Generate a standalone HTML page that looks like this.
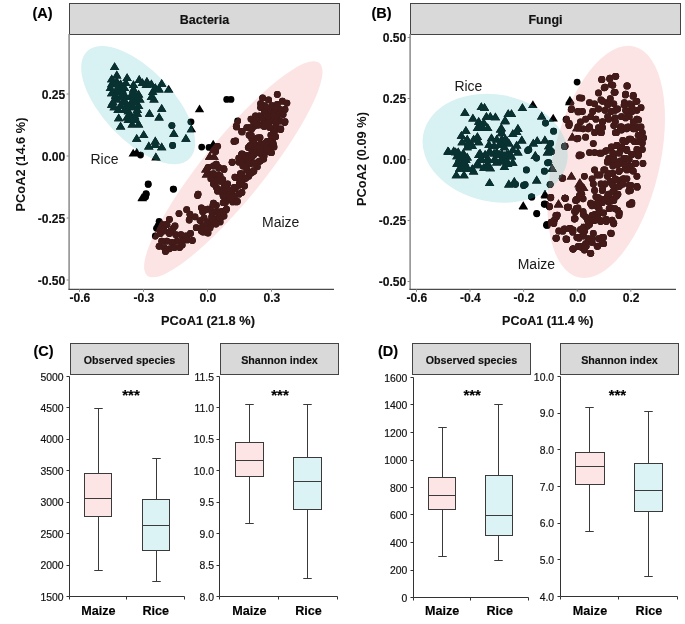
<!DOCTYPE html><html><head><meta charset="utf-8"><style>html,body{margin:0;padding:0;background:#fff;overflow:hidden;}svg{display:block;will-change:transform;font-family:'Liberation Sans',sans-serif}</style></head><body>
<svg width="685" height="624" viewBox="0 0 685 624">
<rect width="685" height="624" fill="#fff"/>
<text x="32.5" y="17.5" font-size="14.5" font-weight="bold" text-anchor="start" fill="#000" stroke="#000" stroke-width="0.15" >(A)</text>
<text x="371.5" y="17.5" font-size="14.5" font-weight="bold" text-anchor="start" fill="#000" stroke="#000" stroke-width="0.15" >(B)</text>
<text x="33.5" y="356" font-size="14.5" font-weight="bold" text-anchor="start" fill="#000" stroke="#000" stroke-width="0.15" >(C)</text>
<text x="378" y="356" font-size="14.5" font-weight="bold" text-anchor="start" fill="#000" stroke="#000" stroke-width="0.15" >(D)</text>
<defs>
<clipPath id="paA"><rect x="70" y="34" width="270" height="255"/></clipPath>
<ellipse id="erA" cx="138.2" cy="105.15" rx="74.2" ry="35.07" transform="rotate(46.6 138.2 105.15)"/>
<ellipse id="emA" cx="233.3" cy="169.25" rx="136.8" ry="30.5" transform="rotate(-51.05 233.3 169.25)"/>
<clipPath id="crA"><use href="#erA"/></clipPath>
<clipPath id="cmA"><use href="#emA"/></clipPath>
<g id="ptA"><circle cx="171.9" cy="125.6" r="3.4"/><circle cx="226.7" cy="99.4" r="3.4"/><circle cx="231.0" cy="99.4" r="3.4"/><circle cx="191.0" cy="121.8" r="3.4"/><circle cx="172.6" cy="145.5" r="3.4"/><circle cx="140.5" cy="155.1" r="3.4"/><circle cx="148.2" cy="184.0" r="3.4"/><circle cx="146.3" cy="194.2" r="3.4"/><circle cx="173.2" cy="189.1" r="3.4"/><circle cx="201.7" cy="147.1" r="3.4"/><circle cx="209.0" cy="147.4" r="3.4"/><circle cx="208.3" cy="167.3" r="3.4"/><circle cx="213.5" cy="166.0" r="3.4"/><circle cx="218.6" cy="167.3" r="3.4"/><circle cx="223.7" cy="168.6" r="3.4"/><circle cx="208.3" cy="173.7" r="3.4"/><circle cx="213.5" cy="173.7" r="3.4"/><circle cx="218.6" cy="175.0" r="3.4"/><circle cx="210.9" cy="178.8" r="3.4"/><circle cx="216.0" cy="180.1" r="3.4"/><circle cx="221.2" cy="181.4" r="3.4"/><circle cx="213.5" cy="184.0" r="3.4"/><circle cx="227.6" cy="184.0" r="3.4"/><circle cx="223.7" cy="187.8" r="3.4"/><circle cx="226.3" cy="191.7" r="3.4"/><circle cx="217.3" cy="189.1" r="3.4"/><circle cx="231.4" cy="191.7" r="3.4"/><circle cx="235.3" cy="189.1" r="3.4"/><circle cx="239.1" cy="185.3" r="3.4"/><circle cx="241.7" cy="181.4" r="3.4"/><circle cx="244.2" cy="178.8" r="3.4"/><circle cx="241.7" cy="175.0" r="3.4"/><circle cx="235.3" cy="177.6" r="3.4"/><circle cx="239.1" cy="194.2" r="3.4"/><circle cx="234.0" cy="196.8" r="3.4"/><circle cx="228.8" cy="199.4" r="3.4"/><circle cx="225.0" cy="201.9" r="3.4"/><circle cx="232.7" cy="201.9" r="3.4"/><circle cx="236.5" cy="201.9" r="3.4"/><circle cx="213.5" cy="203.2" r="3.4"/><circle cx="198.1" cy="194.2" r="3.4"/><circle cx="234.0" cy="141.4" r="3.4"/><circle cx="232.1" cy="162.2" r="3.4"/><circle cx="241.7" cy="131.4" r="3.4"/><circle cx="236.5" cy="126.9" r="3.4"/><circle cx="246.8" cy="127.6" r="3.4"/><circle cx="251.9" cy="128.8" r="3.4"/><circle cx="249.4" cy="135.3" r="3.4"/><circle cx="251.9" cy="139.1" r="3.4"/><circle cx="241.7" cy="154.5" r="3.4"/><circle cx="246.8" cy="155.8" r="3.4"/><circle cx="239.1" cy="162.2" r="3.4"/><circle cx="242.9" cy="166.0" r="3.4"/><circle cx="250.6" cy="163.5" r="3.4"/><circle cx="251.9" cy="150.6" r="3.4"/><circle cx="249.4" cy="146.8" r="3.4"/><circle cx="246.8" cy="169.9" r="3.4"/><circle cx="251.9" cy="172.4" r="3.4"/><circle cx="248.7" cy="176.3" r="3.4"/><circle cx="244.2" cy="159.6" r="3.4"/><circle cx="240.4" cy="173.7" r="3.4"/><circle cx="277.3" cy="94.4" r="3.4"/><circle cx="262.6" cy="97.9" r="3.4"/><circle cx="268.6" cy="99.9" r="3.4"/><circle cx="260.6" cy="103.7" r="3.4"/><circle cx="264.5" cy="105.6" r="3.4"/><circle cx="260.6" cy="107.6" r="3.4"/><circle cx="267.1" cy="107.6" r="3.4"/><circle cx="272.2" cy="105.6" r="3.4"/><circle cx="277.3" cy="104.4" r="3.4"/><circle cx="282.4" cy="101.2" r="3.4"/><circle cx="286.9" cy="103.1" r="3.4"/><circle cx="285.0" cy="109.5" r="3.4"/><circle cx="279.9" cy="109.5" r="3.4"/><circle cx="274.7" cy="110.8" r="3.4"/><circle cx="269.6" cy="112.1" r="3.4"/><circle cx="264.5" cy="112.1" r="3.4"/><circle cx="259.4" cy="115.9" r="3.4"/><circle cx="255.5" cy="115.9" r="3.4"/><circle cx="251.0" cy="119.1" r="3.4"/><circle cx="256.8" cy="121.0" r="3.4"/><circle cx="262.6" cy="118.5" r="3.4"/><circle cx="268.3" cy="117.2" r="3.4"/><circle cx="273.5" cy="115.9" r="3.4"/><circle cx="278.6" cy="114.6" r="3.4"/><circle cx="283.1" cy="114.6" r="3.4"/><circle cx="285.0" cy="121.7" r="3.4"/><circle cx="279.9" cy="121.0" r="3.4"/><circle cx="274.7" cy="121.0" r="3.4"/><circle cx="269.6" cy="122.3" r="3.4"/><circle cx="264.5" cy="123.6" r="3.4"/><circle cx="259.4" cy="124.9" r="3.4"/><circle cx="254.2" cy="126.2" r="3.4"/><circle cx="249.1" cy="128.1" r="3.4"/><circle cx="269.6" cy="127.4" r="3.4"/><circle cx="276.0" cy="126.2" r="3.4"/><circle cx="280.5" cy="129.4" r="3.4"/><circle cx="273.5" cy="130.6" r="3.4"/><circle cx="270.9" cy="135.1" r="3.4"/><circle cx="260.0" cy="137.7" r="3.4"/><circle cx="249.1" cy="135.1" r="3.4"/><circle cx="242.1" cy="131.9" r="3.4"/><circle cx="237.6" cy="121.0" r="3.4"/><circle cx="236.3" cy="126.2" r="3.4"/><circle cx="235.6" cy="140.9" r="3.4"/><circle cx="272.2" cy="140.3" r="3.4"/><circle cx="267.1" cy="141.5" r="3.4"/><circle cx="273.5" cy="145.4" r="3.4"/><circle cx="268.3" cy="146.7" r="3.4"/><circle cx="260.6" cy="144.1" r="3.4"/><circle cx="256.8" cy="145.4" r="3.4"/><circle cx="250.4" cy="146.0" r="3.4"/><circle cx="265.8" cy="149.9" r="3.4"/><circle cx="270.9" cy="152.4" r="3.4"/><circle cx="260.6" cy="153.1" r="3.4"/><circle cx="254.2" cy="154.4" r="3.4"/><circle cx="247.8" cy="155.6" r="3.4"/><circle cx="242.7" cy="154.4" r="3.4"/><circle cx="238.8" cy="158.2" r="3.4"/><circle cx="232.3" cy="162.3" r="3.4"/><circle cx="241.9" cy="154.0" r="3.4"/><circle cx="248.3" cy="147.6" r="3.4"/><circle cx="253.5" cy="146.3" r="3.4"/><circle cx="258.6" cy="147.6" r="3.4"/><circle cx="263.7" cy="146.9" r="3.4"/><circle cx="268.8" cy="146.3" r="3.4"/><circle cx="274.0" cy="146.9" r="3.4"/><circle cx="271.4" cy="152.7" r="3.4"/><circle cx="266.3" cy="151.4" r="3.4"/><circle cx="261.2" cy="154.0" r="3.4"/><circle cx="256.0" cy="152.7" r="3.4"/><circle cx="252.2" cy="156.5" r="3.4"/><circle cx="247.1" cy="159.1" r="3.4"/><circle cx="240.6" cy="161.7" r="3.4"/><circle cx="243.2" cy="165.5" r="3.4"/><circle cx="248.3" cy="164.2" r="3.4"/><circle cx="253.5" cy="162.9" r="3.4"/><circle cx="258.6" cy="161.7" r="3.4"/><circle cx="263.7" cy="159.1" r="3.4"/><circle cx="257.3" cy="166.8" r="3.4"/><circle cx="253.5" cy="170.6" r="3.4"/><circle cx="249.6" cy="172.6" r="3.4"/><circle cx="241.9" cy="173.8" r="3.4"/><circle cx="234.9" cy="177.1" r="3.4"/><circle cx="245.8" cy="178.3" r="3.4"/><circle cx="240.6" cy="180.9" r="3.4"/><circle cx="244.5" cy="186.0" r="3.4"/><circle cx="239.4" cy="183.5" r="3.4"/><circle cx="234.2" cy="187.3" r="3.4"/><circle cx="229.1" cy="189.9" r="3.4"/><circle cx="225.3" cy="184.7" r="3.4"/><circle cx="222.7" cy="179.6" r="3.4"/><circle cx="220.1" cy="175.8" r="3.4"/><circle cx="224.0" cy="169.4" r="3.4"/><circle cx="218.8" cy="168.1" r="3.4"/><circle cx="216.3" cy="164.2" r="3.4"/><circle cx="217.6" cy="180.9" r="3.4"/><circle cx="216.3" cy="187.3" r="3.4"/><circle cx="217.6" cy="191.2" r="3.4"/><circle cx="222.7" cy="193.7" r="3.4"/><circle cx="229.1" cy="195.0" r="3.4"/><circle cx="234.2" cy="196.3" r="3.4"/><circle cx="237.4" cy="201.4" r="3.4"/><circle cx="241.9" cy="192.4" r="3.4"/><circle cx="225.3" cy="202.7" r="3.4"/><circle cx="226.5" cy="209.1" r="3.4"/><circle cx="222.7" cy="211.7" r="3.4"/><circle cx="218.8" cy="215.5" r="3.4"/><circle cx="216.3" cy="219.4" r="3.4"/><circle cx="220.1" cy="221.9" r="3.4"/><circle cx="218.8" cy="220.6" r="3.4"/><circle cx="216.3" cy="205.3" r="3.4"/><circle cx="215.6" cy="151.4" r="3.4"/><circle cx="217.6" cy="146.3" r="3.4"/><circle cx="197.6" cy="195.6" r="3.4"/><circle cx="179.0" cy="213.6" r="3.4"/><circle cx="186.7" cy="209.7" r="3.4"/><circle cx="169.4" cy="219.4" r="3.4"/><circle cx="159.1" cy="221.3" r="3.4"/><circle cx="156.5" cy="228.3" r="3.4"/><circle cx="155.3" cy="236.0" r="3.4"/><circle cx="161.7" cy="224.5" r="3.4"/><circle cx="166.8" cy="224.5" r="3.4"/><circle cx="173.2" cy="228.3" r="3.4"/><circle cx="164.2" cy="230.9" r="3.4"/><circle cx="160.4" cy="233.5" r="3.4"/><circle cx="169.4" cy="233.5" r="3.4"/><circle cx="175.8" cy="234.7" r="3.4"/><circle cx="180.9" cy="234.7" r="3.4"/><circle cx="186.0" cy="236.0" r="3.4"/><circle cx="190.5" cy="233.5" r="3.4"/><circle cx="192.4" cy="240.5" r="3.4"/><circle cx="187.3" cy="239.9" r="3.4"/><circle cx="182.2" cy="241.2" r="3.4"/><circle cx="177.1" cy="241.2" r="3.4"/><circle cx="171.9" cy="242.4" r="3.4"/><circle cx="166.8" cy="241.2" r="3.4"/><circle cx="161.7" cy="241.2" r="3.4"/><circle cx="159.1" cy="246.3" r="3.4"/><circle cx="164.2" cy="247.6" r="3.4"/><circle cx="169.4" cy="248.8" r="3.4"/><circle cx="174.5" cy="247.6" r="3.4"/><circle cx="179.6" cy="247.6" r="3.4"/><circle cx="182.2" cy="245.0" r="3.4"/><circle cx="165.5" cy="251.4" r="3.4"/><circle cx="189.2" cy="220.0" r="3.4"/><circle cx="189.9" cy="214.2" r="3.4"/><circle cx="195.0" cy="216.8" r="3.4"/><circle cx="196.3" cy="227.7" r="3.4"/><circle cx="201.4" cy="230.9" r="3.4"/><circle cx="206.5" cy="232.2" r="3.4"/><circle cx="202.7" cy="225.8" r="3.4"/><circle cx="200.1" cy="220.6" r="3.4"/><circle cx="202.7" cy="211.7" r="3.4"/><circle cx="201.4" cy="207.8" r="3.4"/><circle cx="207.8" cy="209.1" r="3.4"/><circle cx="212.9" cy="205.3" r="3.4"/><circle cx="216.8" cy="211.7" r="3.4"/><circle cx="211.7" cy="216.8" r="3.4"/><circle cx="207.8" cy="221.9" r="3.4"/><circle cx="211.7" cy="224.5" r="3.4"/><circle cx="216.8" cy="221.9" r="3.4"/><circle cx="220.6" cy="218.1" r="3.4"/><circle cx="221.9" cy="211.7" r="3.4"/><circle cx="223.2" cy="202.7" r="3.4"/><circle cx="223.2" cy="196.3" r="3.4"/><circle cx="145.6" cy="196.9" r="3.4"/><circle cx="284.6" cy="122.6" r="3.4"/><circle cx="280.8" cy="129.0" r="3.4"/><circle cx="274.4" cy="131.5" r="3.4"/><circle cx="271.8" cy="135.4" r="3.4"/><circle cx="273.1" cy="143.1" r="3.4"/><circle cx="270.5" cy="152.1" r="3.4"/><circle cx="266.7" cy="148.2" r="3.4"/><circle cx="264.1" cy="155.9" r="3.4"/><circle cx="260.3" cy="161.0" r="3.4"/><circle cx="255.1" cy="163.6" r="3.4"/><circle cx="253.8" cy="171.3" r="3.4"/><circle cx="250.0" cy="173.8" r="3.4"/><circle cx="260.3" cy="152.1" r="3.4"/><circle cx="257.7" cy="137.9" r="3.4"/><circle cx="253.8" cy="143.1" r="3.4"/><circle cx="250.0" cy="145.6" r="3.4"/><circle cx="251.3" cy="135.4" r="3.4"/><circle cx="257.7" cy="125.1" r="3.4"/><circle cx="264.1" cy="126.4" r="3.4"/><circle cx="267.9" cy="122.6" r="3.4"/><circle cx="275.6" cy="121.3" r="3.4"/><circle cx="253.8" cy="122.6" r="3.4"/><circle cx="250.0" cy="127.7" r="3.4"/><circle cx="269.2" cy="141.8" r="3.4"/><circle cx="275.6" cy="136.7" r="3.4"/><circle cx="265.4" cy="143.1" r="3.4"/><circle cx="148.2" cy="184.4" r="3.4"/><circle cx="146.0" cy="193.6" r="3.4"/><circle cx="173.6" cy="189.2" r="3.4"/><circle cx="205.0" cy="210.0" r="3.4"/><circle cx="212.0" cy="212.0" r="3.4"/><circle cx="220.0" cy="212.0" r="3.4"/><circle cx="226.0" cy="210.0" r="3.4"/><circle cx="204.0" cy="218.0" r="3.4"/><circle cx="212.0" cy="220.0" r="3.4"/><circle cx="220.0" cy="218.0" r="3.4"/><circle cx="204.0" cy="226.0" r="3.4"/><circle cx="210.0" cy="228.0" r="3.4"/><circle cx="216.0" cy="224.0" r="3.4"/><circle cx="224.0" cy="216.0" r="3.4"/><circle cx="203.0" cy="232.0" r="3.4"/><circle cx="208.0" cy="233.0" r="3.4"/><circle cx="161.7" cy="228.3" r="3.4"/><circle cx="166.8" cy="224.5" r="3.4"/><circle cx="170.6" cy="230.9" r="3.4"/><circle cx="158.0" cy="226.0" r="3.4"/><circle cx="175.0" cy="226.0" r="3.4"/><path d="M114.6 62.3L119.3 70.1L109.9 70.1ZM116.8 70.6L121.5 78.4L112.1 78.4ZM111.7 74.4L116.4 82.2L107.0 82.2ZM127.1 73.2L131.8 81.0L122.4 81.0ZM139.2 75.1L143.9 82.9L134.5 82.9ZM146.9 77.0L151.6 84.8L142.2 84.8ZM133.5 80.2L138.2 88.0L128.8 88.0ZM151.4 79.6L156.1 87.4L146.7 87.4ZM161.7 78.9L166.4 86.7L157.0 86.7ZM168.7 84.7L173.4 92.5L164.0 92.5ZM111.7 88.5L116.4 96.3L107.0 96.3ZM114.2 79.4L118.9 87.2L109.5 87.2ZM120.6 79.4L125.3 87.2L115.9 87.2ZM118.1 87.1L122.8 94.9L113.4 94.9ZM123.2 88.4L127.9 96.2L118.5 96.2ZM116.8 94.8L121.5 102.6L112.1 102.6ZM124.5 96.1L129.2 103.9L119.8 103.9ZM114.2 102.5L118.9 110.3L109.5 110.3ZM120.6 101.2L125.3 109.0L115.9 109.0ZM127.1 99.9L131.8 107.7L122.4 107.7ZM119.4 83.3L124.1 91.1L114.7 91.1ZM133.5 88.4L138.2 96.2L128.8 96.2ZM138.6 89.7L143.3 97.5L133.9 97.5ZM132.2 96.1L136.9 103.9L127.5 103.9ZM136.0 97.4L140.7 105.2L131.3 105.2ZM133.5 102.5L138.2 110.3L128.8 110.3ZM138.6 101.2L143.3 109.0L133.9 109.0ZM136.0 93.5L140.7 101.3L131.3 101.3ZM152.7 87.1L157.4 94.9L148.0 94.9ZM151.4 92.3L156.1 100.1L146.7 100.1ZM154.0 94.8L158.7 102.6L149.3 102.6ZM159.1 84.6L163.8 92.4L154.4 92.4ZM155.3 83.3L160.0 91.1L150.6 91.1ZM146.3 80.1L151.0 87.9L141.6 87.9ZM142.4 78.2L147.1 86.0L137.7 86.0ZM161.7 103.9L166.4 111.7L157.0 111.7ZM149.5 108.9L154.2 116.7L144.8 116.7ZM159.1 112.8L163.8 120.6L154.4 120.6ZM118.7 113.4L123.4 121.2L114.0 121.2ZM129.6 108.9L134.3 116.7L124.9 116.7ZM137.3 108.9L142.0 116.7L132.6 116.7ZM128.3 115.3L133.0 123.1L123.6 123.1ZM136.0 115.3L140.7 123.1L131.3 123.1ZM132.2 119.8L136.9 127.6L127.5 127.6ZM138.6 119.8L143.3 127.6L133.9 127.6ZM127.1 112.8L131.8 120.6L122.4 120.6ZM120.6 121.7L125.3 129.5L115.9 129.5ZM111.7 79.4L116.4 87.2L107.0 87.2ZM116.8 76.9L121.5 84.7L112.1 84.7ZM121.9 84.6L126.6 92.4L117.2 92.4ZM115.5 91.0L120.2 98.8L110.8 98.8ZM120.6 92.3L125.3 100.1L115.9 100.1ZM125.8 92.3L130.5 100.1L121.1 100.1ZM111.7 99.9L116.4 107.7L107.0 107.7ZM118.1 105.1L122.8 112.9L113.4 112.9ZM124.5 105.1L129.2 112.9L119.8 112.9ZM128.3 106.4L133.0 114.2L123.6 114.2ZM130.9 91.0L135.6 98.8L126.2 98.8ZM139.9 94.8L144.6 102.6L135.2 102.6ZM133.5 84.6L138.2 92.4L128.8 92.4ZM137.3 105.1L142.0 112.9L132.6 112.9ZM130.9 99.9L135.6 107.7L126.2 107.7ZM124.5 83.3L129.2 91.1L119.8 91.1ZM125.8 78.2L130.5 86.0L121.1 86.0ZM116.8 84.6L121.5 92.4L112.1 92.4ZM112.9 97.4L117.6 105.2L108.2 105.2ZM122.6 97.4L127.3 105.2L117.9 105.2ZM127.1 102.5L131.8 110.3L122.4 110.3ZM110.4 83.3L115.1 91.1L105.7 91.1ZM130.9 112.8L135.6 120.6L126.2 120.6ZM134.7 111.5L139.4 119.3L130.0 119.3ZM199.5 104.4L204.2 112.2L194.8 112.2ZM191.4 124.4L196.1 132.2L186.7 132.2ZM143.7 130.2L148.4 138.0L139.0 138.0ZM136.7 134.0L141.4 141.8L132.0 141.8ZM173.8 129.0L178.5 136.8L169.1 136.8ZM155.3 136.6L160.0 144.4L150.6 144.4ZM148.8 141.6L153.5 149.4L144.1 149.4ZM161.7 142.4L166.4 150.2L157.0 150.2ZM155.9 152.6L160.6 160.4L151.2 160.4ZM155.3 140.3L160.0 148.1L150.6 148.1ZM133.2 148.7L137.9 156.5L128.5 156.5ZM136.7 148.0L141.4 155.8L132.0 155.8ZM142.2 192.9L146.9 200.7L137.5 200.7ZM185.9 134.0L190.6 141.8L181.2 141.8ZM213.2 139.8L217.9 147.6L208.5 147.6ZM213.5 145.5L218.2 153.3L208.8 153.3ZM209.6 151.9L214.3 159.7L204.9 159.7ZM214.1 151.9L218.8 159.7L209.4 159.7ZM205.8 164.7L210.5 172.5L201.1 172.5ZM206.4 169.8L211.1 177.6L201.7 177.6ZM142.3 193.5L147.0 201.3L137.6 201.3Z"/></g>
</defs>
<g clip-path="url(#paA)">
<use href="#emA" fill="#fde4e4"/>
<use href="#erA" fill="#d8f1f3"/>
<g clip-path="url(#cmA)"><use href="#erA" fill="#d7dede"/></g>
<use href="#ptA" fill="#000"/>
<g clip-path="url(#cmA)"><use href="#ptA" fill="#441a18"/></g>
<g clip-path="url(#crA)"><use href="#ptA" fill="#083131"/></g>
<g clip-path="url(#cmA)"><g clip-path="url(#crA)"><use href="#ptA" fill="#3e4848"/></g></g>
</g><text x="90.5" y="163.6" font-size="14" fill="#1a1a1a">Rice</text><text x="262" y="226.6" font-size="14" fill="#1a1a1a">Maize</text><defs>
<clipPath id="paB"><rect x="411" y="34" width="270" height="255"/></clipPath>
<ellipse id="erB" cx="495.15" cy="148.2" rx="73.2" ry="53.6" transform="rotate(11.2 495.15 148.2)"/>
<ellipse id="emB" cx="606.2" cy="161.85" rx="118.7" ry="53.3" transform="rotate(-76.5 606.2 161.85)"/>
<clipPath id="crB"><use href="#erB"/></clipPath>
<clipPath id="cmB"><use href="#emB"/></clipPath>
<g id="ptB"><circle cx="536.5" cy="158.1" r="3.4"/><circle cx="545.5" cy="123.1" r="3.4"/><circle cx="553.6" cy="131.2" r="3.4"/><circle cx="528.8" cy="149.7" r="3.4"/><circle cx="550.6" cy="143.3" r="3.4"/><circle cx="551.3" cy="151.7" r="3.4"/><circle cx="548.7" cy="162.6" r="3.4"/><circle cx="564.7" cy="146.5" r="3.4"/><circle cx="579.5" cy="97.8" r="3.4"/><circle cx="571.2" cy="109.4" r="3.4"/><circle cx="578.2" cy="111.9" r="3.4"/><circle cx="566.0" cy="119.6" r="3.4"/><circle cx="569.2" cy="123.5" r="3.4"/><circle cx="576.9" cy="138.8" r="3.4"/><circle cx="579.5" cy="154.9" r="3.4"/><circle cx="577.1" cy="82.1" r="3.4"/><circle cx="601.7" cy="79.7" r="3.4"/><circle cx="610.0" cy="78.2" r="3.4"/><circle cx="615.8" cy="76.3" r="3.4"/><circle cx="611.3" cy="84.6" r="3.4"/><circle cx="604.2" cy="87.8" r="3.4"/><circle cx="598.5" cy="92.9" r="3.4"/><circle cx="615.1" cy="92.3" r="3.4"/><circle cx="627.3" cy="85.9" r="3.4"/><circle cx="625.4" cy="94.9" r="3.4"/><circle cx="633.1" cy="96.2" r="3.4"/><circle cx="636.9" cy="101.3" r="3.4"/><circle cx="581.8" cy="98.1" r="3.4"/><circle cx="589.5" cy="102.6" r="3.4"/><circle cx="594.6" cy="103.8" r="3.4"/><circle cx="601.0" cy="100.0" r="3.4"/><circle cx="607.4" cy="102.6" r="3.4"/><circle cx="613.8" cy="103.8" r="3.4"/><circle cx="617.7" cy="109.0" r="3.4"/><circle cx="611.3" cy="111.5" r="3.4"/><circle cx="604.9" cy="110.3" r="3.4"/><circle cx="598.5" cy="109.0" r="3.4"/><circle cx="592.7" cy="111.5" r="3.4"/><circle cx="582.4" cy="111.5" r="3.4"/><circle cx="577.9" cy="111.5" r="3.4"/><circle cx="571.5" cy="109.0" r="3.4"/><circle cx="566.4" cy="119.2" r="3.4"/><circle cx="569.0" cy="124.4" r="3.4"/><circle cx="580.5" cy="121.8" r="3.4"/><circle cx="585.6" cy="119.2" r="3.4"/><circle cx="590.8" cy="116.7" r="3.4"/><circle cx="595.9" cy="119.2" r="3.4"/><circle cx="602.3" cy="121.8" r="3.4"/><circle cx="608.7" cy="119.2" r="3.4"/><circle cx="615.1" cy="117.9" r="3.4"/><circle cx="621.5" cy="116.7" r="3.4"/><circle cx="626.7" cy="111.5" r="3.4"/><circle cx="624.1" cy="105.1" r="3.4"/><circle cx="631.8" cy="106.4" r="3.4"/><circle cx="636.9" cy="110.3" r="3.4"/><circle cx="629.2" cy="116.7" r="3.4"/><circle cx="636.9" cy="119.2" r="3.4"/><circle cx="633.1" cy="126.9" r="3.4"/><circle cx="621.5" cy="126.9" r="3.4"/><circle cx="613.8" cy="125.6" r="3.4"/><circle cx="589.5" cy="126.9" r="3.4"/><circle cx="577.9" cy="126.9" r="3.4"/><circle cx="636.9" cy="126.9" r="3.4"/><circle cx="615.4" cy="76.3" r="3.4"/><circle cx="609.6" cy="78.8" r="3.4"/><circle cx="601.9" cy="79.5" r="3.4"/><circle cx="612.8" cy="85.3" r="3.4"/><circle cx="605.1" cy="87.2" r="3.4"/><circle cx="614.1" cy="92.3" r="3.4"/><circle cx="626.9" cy="85.9" r="3.4"/><circle cx="625.6" cy="94.2" r="3.4"/><circle cx="633.3" cy="95.5" r="3.4"/><circle cx="635.9" cy="101.3" r="3.4"/><circle cx="641.0" cy="107.7" r="3.4"/><circle cx="629.5" cy="103.8" r="3.4"/><circle cx="624.4" cy="102.6" r="3.4"/><circle cx="625.6" cy="110.3" r="3.4"/><circle cx="632.1" cy="111.5" r="3.4"/><circle cx="638.5" cy="119.9" r="3.4"/><circle cx="641.0" cy="126.9" r="3.4"/><circle cx="633.3" cy="121.8" r="3.4"/><circle cx="625.6" cy="117.9" r="3.4"/><circle cx="620.5" cy="126.9" r="3.4"/><circle cx="615.4" cy="110.3" r="3.4"/><circle cx="607.7" cy="105.1" r="3.4"/><circle cx="602.6" cy="101.3" r="3.4"/><circle cx="610.3" cy="98.7" r="3.4"/><circle cx="615.4" cy="121.8" r="3.4"/><circle cx="607.7" cy="116.7" r="3.4"/><circle cx="602.6" cy="121.8" r="3.4"/><circle cx="628.2" cy="126.9" r="3.4"/><circle cx="569.0" cy="125.6" r="3.4"/><circle cx="577.9" cy="138.5" r="3.4"/><circle cx="585.6" cy="137.2" r="3.4"/><circle cx="593.3" cy="143.6" r="3.4"/><circle cx="565.1" cy="146.2" r="3.4"/><circle cx="581.2" cy="155.1" r="3.4"/><circle cx="589.5" cy="152.6" r="3.4"/><circle cx="594.6" cy="152.6" r="3.4"/><circle cx="599.7" cy="153.2" r="3.4"/><circle cx="605.5" cy="151.3" r="3.4"/><circle cx="611.3" cy="147.4" r="3.4"/><circle cx="617.1" cy="145.5" r="3.4"/><circle cx="622.8" cy="140.4" r="3.4"/><circle cx="629.2" cy="139.1" r="3.4"/><circle cx="634.4" cy="141.7" r="3.4"/><circle cx="636.9" cy="149.4" r="3.4"/><circle cx="631.8" cy="154.5" r="3.4"/><circle cx="626.7" cy="149.4" r="3.4"/><circle cx="620.3" cy="150.6" r="3.4"/><circle cx="613.8" cy="154.5" r="3.4"/><circle cx="608.7" cy="158.3" r="3.4"/><circle cx="607.4" cy="162.2" r="3.4"/><circle cx="613.8" cy="164.7" r="3.4"/><circle cx="619.0" cy="162.2" r="3.4"/><circle cx="624.1" cy="158.3" r="3.4"/><circle cx="629.2" cy="159.6" r="3.4"/><circle cx="635.6" cy="163.5" r="3.4"/><circle cx="631.8" cy="169.9" r="3.4"/><circle cx="625.4" cy="168.6" r="3.4"/><circle cx="619.0" cy="171.2" r="3.4"/><circle cx="612.6" cy="173.7" r="3.4"/><circle cx="607.4" cy="176.3" r="3.4"/><circle cx="604.9" cy="169.9" r="3.4"/><circle cx="594.6" cy="169.9" r="3.4"/><circle cx="597.2" cy="175.0" r="3.4"/><circle cx="592.1" cy="178.8" r="3.4"/><circle cx="593.3" cy="184.0" r="3.4"/><circle cx="601.0" cy="184.0" r="3.4"/><circle cx="584.4" cy="176.3" r="3.4"/><circle cx="581.8" cy="194.2" r="3.4"/><circle cx="576.7" cy="199.4" r="3.4"/><circle cx="565.1" cy="198.1" r="3.4"/><circle cx="562.6" cy="178.2" r="3.4"/><circle cx="594.6" cy="190.4" r="3.4"/><circle cx="602.3" cy="190.4" r="3.4"/><circle cx="595.9" cy="196.8" r="3.4"/><circle cx="602.3" cy="199.4" r="3.4"/><circle cx="608.7" cy="194.2" r="3.4"/><circle cx="615.1" cy="187.8" r="3.4"/><circle cx="611.3" cy="182.7" r="3.4"/><circle cx="617.7" cy="180.1" r="3.4"/><circle cx="624.1" cy="178.8" r="3.4"/><circle cx="620.3" cy="185.3" r="3.4"/><circle cx="629.2" cy="185.3" r="3.4"/><circle cx="636.9" cy="186.5" r="3.4"/><circle cx="630.5" cy="190.4" r="3.4"/><circle cx="631.8" cy="202.6" r="3.4"/><circle cx="590.8" cy="203.2" r="3.4"/><circle cx="597.2" cy="203.2" r="3.4"/><circle cx="608.7" cy="201.9" r="3.4"/><circle cx="616.4" cy="195.5" r="3.4"/><circle cx="613.8" cy="200.6" r="3.4"/><circle cx="594.6" cy="132.7" r="3.4"/><circle cx="601.0" cy="132.7" r="3.4"/><circle cx="598.5" cy="127.6" r="3.4"/><circle cx="588.2" cy="128.8" r="3.4"/><circle cx="616.4" cy="132.7" r="3.4"/><circle cx="621.5" cy="130.1" r="3.4"/><circle cx="626.7" cy="128.8" r="3.4"/><circle cx="635.6" cy="128.8" r="3.4"/><circle cx="638.2" cy="135.3" r="3.4"/><circle cx="638.2" cy="155.8" r="3.4"/><circle cx="636.9" cy="176.3" r="3.4"/><circle cx="583.1" cy="128.8" r="3.4"/><circle cx="602.6" cy="127.6" r="3.4"/><circle cx="601.3" cy="132.7" r="3.4"/><circle cx="615.4" cy="132.7" r="3.4"/><circle cx="620.5" cy="128.8" r="3.4"/><circle cx="626.9" cy="127.6" r="3.4"/><circle cx="633.3" cy="128.8" r="3.4"/><circle cx="639.7" cy="127.6" r="3.4"/><circle cx="642.3" cy="132.7" r="3.4"/><circle cx="643.6" cy="137.8" r="3.4"/><circle cx="642.3" cy="142.9" r="3.4"/><circle cx="642.3" cy="149.4" r="3.4"/><circle cx="638.5" cy="154.5" r="3.4"/><circle cx="639.7" cy="135.3" r="3.4"/><circle cx="638.5" cy="141.7" r="3.4"/><circle cx="630.8" cy="139.1" r="3.4"/><circle cx="625.6" cy="141.7" r="3.4"/><circle cx="621.8" cy="146.8" r="3.4"/><circle cx="616.7" cy="145.5" r="3.4"/><circle cx="611.5" cy="146.8" r="3.4"/><circle cx="606.4" cy="150.6" r="3.4"/><circle cx="601.3" cy="153.2" r="3.4"/><circle cx="612.8" cy="153.2" r="3.4"/><circle cx="619.2" cy="153.2" r="3.4"/><circle cx="626.9" cy="150.6" r="3.4"/><circle cx="632.1" cy="154.5" r="3.4"/><circle cx="625.6" cy="158.3" r="3.4"/><circle cx="620.5" cy="160.9" r="3.4"/><circle cx="614.1" cy="159.6" r="3.4"/><circle cx="607.7" cy="160.9" r="3.4"/><circle cx="612.8" cy="166.0" r="3.4"/><circle cx="617.9" cy="164.7" r="3.4"/><circle cx="624.4" cy="164.7" r="3.4"/><circle cx="629.5" cy="166.0" r="3.4"/><circle cx="635.3" cy="163.5" r="3.4"/><circle cx="642.9" cy="163.5" r="3.4"/><circle cx="633.3" cy="171.2" r="3.4"/><circle cx="626.9" cy="169.9" r="3.4"/><circle cx="619.2" cy="171.2" r="3.4"/><circle cx="612.8" cy="173.7" r="3.4"/><circle cx="603.8" cy="169.9" r="3.4"/><circle cx="609.0" cy="173.7" r="3.4"/><circle cx="615.4" cy="178.8" r="3.4"/><circle cx="623.1" cy="178.8" r="3.4"/><circle cx="626.9" cy="178.8" r="3.4"/><circle cx="610.3" cy="181.4" r="3.4"/><circle cx="605.1" cy="184.0" r="3.4"/><circle cx="602.6" cy="189.1" r="3.4"/><circle cx="612.8" cy="185.3" r="3.4"/><circle cx="619.2" cy="186.5" r="3.4"/><circle cx="612.8" cy="191.7" r="3.4"/><circle cx="617.9" cy="194.2" r="3.4"/><circle cx="607.7" cy="195.5" r="3.4"/><circle cx="603.8" cy="199.4" r="3.4"/><circle cx="610.3" cy="200.6" r="3.4"/><circle cx="630.8" cy="185.3" r="3.4"/><circle cx="637.2" cy="187.2" r="3.4"/><circle cx="628.8" cy="191.0" r="3.4"/><circle cx="631.4" cy="203.2" r="3.4"/><circle cx="600.0" cy="175.0" r="3.4"/><circle cx="623.1" cy="184.0" r="3.4"/><circle cx="565.1" cy="198.2" r="3.4"/><circle cx="576.7" cy="200.1" r="3.4"/><circle cx="583.1" cy="198.8" r="3.4"/><circle cx="590.8" cy="204.0" r="3.4"/><circle cx="567.7" cy="207.2" r="3.4"/><circle cx="577.9" cy="207.8" r="3.4"/><circle cx="575.4" cy="211.7" r="3.4"/><circle cx="583.1" cy="211.7" r="3.4"/><circle cx="574.7" cy="218.7" r="3.4"/><circle cx="585.6" cy="216.8" r="3.4"/><circle cx="592.1" cy="215.5" r="3.4"/><circle cx="598.5" cy="212.9" r="3.4"/><circle cx="597.2" cy="206.5" r="3.4"/><circle cx="602.3" cy="202.7" r="3.4"/><circle cx="606.2" cy="198.8" r="3.4"/><circle cx="598.5" cy="197.6" r="3.4"/><circle cx="612.6" cy="198.8" r="3.4"/><circle cx="616.4" cy="196.3" r="3.4"/><circle cx="631.8" cy="204.0" r="3.4"/><circle cx="611.3" cy="207.8" r="3.4"/><circle cx="617.7" cy="210.4" r="3.4"/><circle cx="619.0" cy="215.5" r="3.4"/><circle cx="613.8" cy="223.2" r="3.4"/><circle cx="611.3" cy="233.5" r="3.4"/><circle cx="606.2" cy="219.4" r="3.4"/><circle cx="601.0" cy="220.6" r="3.4"/><circle cx="594.6" cy="220.6" r="3.4"/><circle cx="589.5" cy="224.5" r="3.4"/><circle cx="585.6" cy="227.1" r="3.4"/><circle cx="580.5" cy="229.6" r="3.4"/><circle cx="570.3" cy="228.3" r="3.4"/><circle cx="563.8" cy="229.6" r="3.4"/><circle cx="572.8" cy="232.2" r="3.4"/><circle cx="566.4" cy="239.2" r="3.4"/><circle cx="577.9" cy="237.3" r="3.4"/><circle cx="583.1" cy="233.5" r="3.4"/><circle cx="588.2" cy="238.6" r="3.4"/><circle cx="593.3" cy="233.5" r="3.4"/><circle cx="598.5" cy="238.6" r="3.4"/><circle cx="602.3" cy="237.3" r="3.4"/><circle cx="603.6" cy="243.7" r="3.4"/><circle cx="597.2" cy="246.3" r="3.4"/><circle cx="592.1" cy="242.4" r="3.4"/><circle cx="585.6" cy="243.7" r="3.4"/><circle cx="580.5" cy="246.3" r="3.4"/><circle cx="584.4" cy="250.1" r="3.4"/><circle cx="590.8" cy="253.3" r="3.4"/><circle cx="572.8" cy="248.8" r="3.4"/><circle cx="527.7" cy="150.6" r="3.4"/><circle cx="547.6" cy="162.8" r="3.4"/><circle cx="526.4" cy="169.9" r="3.4"/><circle cx="544.4" cy="171.2" r="3.4"/><circle cx="525.1" cy="184.6" r="3.4"/><circle cx="550.1" cy="184.6" r="3.4"/><circle cx="562.3" cy="178.2" r="3.4"/><circle cx="531.5" cy="196.8" r="3.4"/><circle cx="550.8" cy="197.4" r="3.4"/><circle cx="544.4" cy="203.8" r="3.4"/><circle cx="536.7" cy="213.5" r="3.4"/><circle cx="546.9" cy="224.4" r="3.4"/><circle cx="555.9" cy="215.4" r="3.4"/><circle cx="553.3" cy="221.8" r="3.4"/><circle cx="564.9" cy="198.1" r="3.4"/><circle cx="568.7" cy="207.1" r="3.4"/><circle cx="576.4" cy="200.0" r="3.4"/><circle cx="576.4" cy="208.3" r="3.4"/><circle cx="575.1" cy="218.6" r="3.4"/><circle cx="579.0" cy="188.5" r="3.4"/><circle cx="579.0" cy="155.8" r="3.4"/><circle cx="550.8" cy="151.3" r="3.4"/><circle cx="544.3" cy="204.3" r="3.4"/><circle cx="549.4" cy="206.5" r="3.4"/><circle cx="567.4" cy="207.2" r="3.4"/><circle cx="574.6" cy="211.5" r="3.4"/><circle cx="557.3" cy="215.1" r="3.4"/><circle cx="554.4" cy="220.2" r="3.4"/><circle cx="546.5" cy="225.2" r="3.4"/><circle cx="574.6" cy="218.8" r="3.4"/><circle cx="583.3" cy="214.4" r="3.4"/><circle cx="587.6" cy="220.2" r="3.4"/><circle cx="564.5" cy="228.8" r="3.4"/><circle cx="570.3" cy="228.8" r="3.4"/><circle cx="558.8" cy="231.0" r="3.4"/><circle cx="555.9" cy="238.2" r="3.4"/><circle cx="566.0" cy="238.9" r="3.4"/><circle cx="578.9" cy="238.2" r="3.4"/><circle cx="583.3" cy="236.1" r="3.4"/><circle cx="584.7" cy="231.0" r="3.4"/><circle cx="587.6" cy="226.0" r="3.4"/><circle cx="591.9" cy="220.2" r="3.4"/><circle cx="594.8" cy="214.4" r="3.4"/><circle cx="591.9" cy="205.8" r="3.4"/><circle cx="599.1" cy="208.7" r="3.4"/><circle cx="603.5" cy="213.0" r="3.4"/><circle cx="609.2" cy="208.7" r="3.4"/><circle cx="615.0" cy="208.7" r="3.4"/><circle cx="619.3" cy="213.0" r="3.4"/><circle cx="612.1" cy="220.2" r="3.4"/><circle cx="606.3" cy="221.6" r="3.4"/><circle cx="600.6" cy="221.6" r="3.4"/><circle cx="597.7" cy="217.3" r="3.4"/><circle cx="613.6" cy="223.8" r="3.4"/><circle cx="610.7" cy="233.2" r="3.4"/><circle cx="603.5" cy="237.5" r="3.4"/><circle cx="602.0" cy="243.3" r="3.4"/><circle cx="597.7" cy="246.2" r="3.4"/><circle cx="591.9" cy="238.9" r="3.4"/><circle cx="586.2" cy="246.2" r="3.4"/><circle cx="581.8" cy="247.6" r="3.4"/><circle cx="573.2" cy="249.0" r="3.4"/><circle cx="590.5" cy="253.4" r="3.4"/><circle cx="629.4" cy="204.3" r="3.4"/><circle cx="531.8" cy="197.2" r="3.4"/><circle cx="536.8" cy="213.8" r="3.4"/><circle cx="545.5" cy="204.2" r="3.4"/><circle cx="547.2" cy="225.4" r="3.4"/><circle cx="550.6" cy="197.8" r="3.4"/><circle cx="549.4" cy="206.8" r="3.4"/><circle cx="553.8" cy="223.5" r="3.4"/><circle cx="556.4" cy="217.1" r="3.4"/><circle cx="565.4" cy="198.5" r="3.4"/><circle cx="567.9" cy="207.4" r="3.4"/><circle cx="575.6" cy="200.4" r="3.4"/><circle cx="576.9" cy="209.4" r="3.4"/><circle cx="574.4" cy="219.0" r="3.4"/><circle cx="579.5" cy="195.3" r="3.4"/><circle cx="562.8" cy="231.2" r="3.4"/><circle cx="569.2" cy="228.6" r="3.4"/><circle cx="573.1" cy="229.9" r="3.4"/><circle cx="556.4" cy="238.2" r="3.4"/><circle cx="566.7" cy="239.5" r="3.4"/><circle cx="576.9" cy="237.6" r="3.4"/><circle cx="573.1" cy="249.1" r="3.4"/><circle cx="578.2" cy="246.5" r="3.4"/><circle cx="551.3" cy="222.2" r="3.4"/><circle cx="515.5" cy="184.3" r="3.4"/><circle cx="523.6" cy="185.5" r="3.4"/><path d="M481.3 102.3L486.0 110.1L476.6 110.1ZM484.5 102.9L489.2 110.7L479.8 110.7ZM464.9 108.0L469.6 115.8L460.2 115.8ZM472.9 113.8L477.6 121.6L468.2 121.6ZM486.4 111.9L491.1 119.7L481.7 119.7ZM490.3 111.9L495.0 119.7L485.6 119.7ZM495.4 112.5L500.1 120.3L490.7 120.3ZM508.2 109.3L512.9 117.1L503.5 117.1ZM478.7 116.9L483.4 124.7L474.0 124.7ZM483.8 118.2L488.5 126.0L479.1 126.0ZM477.4 123.3L482.1 131.1L472.7 131.1ZM482.6 123.3L487.3 131.1L477.9 131.1ZM487.7 123.3L492.4 131.1L483.0 131.1ZM481.3 120.7L486.0 128.5L476.6 128.5ZM505.0 116.4L509.7 124.2L500.3 124.2ZM465.9 126.0L470.6 133.8L461.2 133.8ZM500.5 124.7L505.2 132.5L495.8 132.5ZM501.8 128.4L506.5 136.2L497.1 136.2ZM461.4 131.0L466.1 138.8L456.7 138.8ZM467.2 134.8L471.9 142.6L462.5 142.6ZM462.1 137.4L466.8 145.2L457.4 145.2ZM468.5 138.7L473.2 146.5L463.8 146.5ZM473.6 134.8L478.3 142.6L468.9 142.6ZM477.4 132.3L482.1 140.1L472.7 140.1ZM478.7 137.4L483.4 145.2L474.0 145.2ZM472.3 141.2L477.0 149.0L467.6 149.0ZM467.2 142.5L471.9 150.3L462.5 150.3ZM491.5 133.5L496.2 141.3L486.8 141.3ZM496.7 134.8L501.4 142.6L492.0 142.6ZM501.8 134.8L506.5 142.6L497.1 142.6ZM506.9 136.1L511.6 143.9L502.2 143.9ZM489.0 139.9L493.7 147.7L484.3 147.7ZM494.1 141.2L498.8 149.0L489.4 149.0ZM499.2 139.9L503.9 147.7L494.5 147.7ZM504.4 142.5L509.1 150.3L499.7 150.3ZM490.3 147.6L495.0 155.4L485.6 155.4ZM496.7 147.6L501.4 155.4L492.0 155.4ZM501.8 148.9L506.5 156.7L497.1 156.7ZM506.9 150.2L511.6 158.0L502.2 158.0ZM487.7 154.0L492.4 161.8L483.0 161.8ZM494.1 155.3L498.8 163.1L489.4 163.1ZM500.5 156.6L505.2 164.4L495.8 164.4ZM506.9 157.9L511.6 165.7L502.2 165.7ZM448.6 147.1L453.3 154.9L443.9 154.9ZM453.7 146.5L458.4 154.3L449.0 154.3ZM458.2 147.6L462.9 155.4L453.5 155.4ZM456.9 151.5L461.6 159.3L452.2 159.3ZM462.1 151.5L466.8 159.3L457.4 159.3ZM467.2 152.8L471.9 160.6L462.5 160.6ZM458.2 157.9L462.9 165.7L453.5 165.7ZM464.6 157.9L469.3 165.7L459.9 165.7ZM460.8 163.0L465.5 170.8L456.1 170.8ZM467.2 163.0L471.9 170.8L462.5 170.8ZM478.7 150.2L483.4 158.0L474.0 158.0ZM481.3 155.3L486.0 163.1L476.6 163.1ZM478.7 160.5L483.4 168.3L474.0 168.3ZM483.8 163.0L488.5 170.8L479.1 170.8ZM489.0 161.7L493.7 169.5L484.3 169.5ZM472.3 164.3L477.0 172.1L467.6 172.1ZM447.9 146.7L452.6 154.5L443.2 154.5ZM455.6 147.4L460.3 155.2L450.9 155.2ZM463.3 148.7L468.0 156.5L458.6 156.5ZM459.5 153.8L464.2 161.6L454.8 161.6ZM465.9 155.1L470.6 162.9L461.2 162.9ZM456.9 158.9L461.6 166.7L452.2 166.7ZM462.1 160.2L466.8 168.0L457.4 168.0ZM459.5 164.0L464.2 171.8L454.8 171.8ZM465.9 164.0L470.6 171.8L461.2 171.8ZM456.3 170.5L461.0 178.3L451.6 178.3ZM464.0 170.5L468.7 178.3L459.3 178.3ZM473.6 166.6L478.3 174.4L468.9 174.4ZM477.4 158.9L482.1 166.7L472.7 166.7ZM481.3 153.8L486.0 161.6L476.6 161.6ZM480.0 148.7L484.7 156.5L475.3 156.5ZM485.1 149.9L489.8 157.7L480.4 157.7ZM489.0 147.4L493.7 155.2L484.3 155.2ZM494.1 148.7L498.8 156.5L489.4 156.5ZM499.2 149.9L503.9 157.7L494.5 157.7ZM504.4 151.2L509.1 159.0L499.7 159.0ZM508.2 149.9L512.9 157.7L503.5 157.7ZM487.7 158.9L492.4 166.7L483.0 166.7ZM490.3 163.4L495.0 171.2L485.6 171.2ZM496.7 157.6L501.4 165.4L492.0 165.4ZM501.8 153.8L506.5 161.6L497.1 161.6ZM506.9 156.4L511.6 164.2L502.2 164.2ZM504.4 162.3L509.1 170.1L499.7 170.1ZM489.6 178.3L494.3 186.1L484.9 186.1ZM508.8 179.6L513.5 187.4L504.1 187.4ZM532.9 100.3L537.6 108.1L528.2 108.1ZM522.4 103.2L527.1 111.0L517.7 111.0ZM511.5 109.3L516.2 117.1L506.8 117.1ZM505.1 115.7L509.8 123.5L500.4 123.5ZM541.7 111.6L546.4 119.4L537.0 119.4ZM553.2 113.8L557.9 121.6L548.5 121.6ZM517.9 124.0L522.6 131.8L513.2 131.8ZM512.8 129.2L517.5 137.0L508.1 137.0ZM516.7 127.3L521.4 135.1L512.0 135.1ZM501.3 123.4L506.0 131.2L496.6 131.2ZM501.3 128.5L506.0 136.3L496.6 136.3ZM505.1 134.9L509.8 142.7L500.4 142.7ZM502.6 138.8L507.3 146.6L497.9 146.6ZM509.0 138.8L513.7 146.6L504.3 146.6ZM521.8 135.6L526.5 143.4L517.1 143.4ZM516.7 140.7L521.4 148.5L512.0 148.5ZM512.8 145.2L517.5 153.0L508.1 153.0ZM517.9 147.8L522.6 155.6L513.2 155.6ZM511.5 151.6L516.2 159.4L506.8 159.4ZM506.4 150.3L511.1 158.1L501.7 158.1ZM503.8 156.7L508.5 164.5L499.1 164.5ZM512.8 158.0L517.5 165.8L508.1 165.8ZM507.7 159.3L512.4 167.1L503.0 167.1ZM537.2 136.2L541.9 144.0L532.5 144.0ZM533.3 138.8L538.0 146.6L528.6 146.6ZM544.9 135.6L549.6 143.4L540.2 143.4ZM548.7 141.4L553.4 149.2L544.0 149.2ZM547.4 147.8L552.1 155.6L542.7 155.6ZM535.3 151.0L540.0 158.8L530.6 158.8ZM569.9 95.8L574.6 103.6L565.2 103.6ZM576.9 123.4L581.6 131.2L572.2 131.2ZM572.4 132.4L577.1 140.2L567.7 140.2ZM569.6 97.4L574.3 105.2L564.9 105.2ZM572.2 132.6L576.9 140.4L567.5 140.4ZM571.5 171.7L576.2 179.5L566.8 179.5ZM579.9 178.2L584.6 186.0L575.2 186.0ZM583.7 183.3L588.4 191.1L579.0 191.1ZM580.5 123.7L585.2 131.5L575.8 131.5ZM589.5 122.4L594.2 130.2L584.8 130.2ZM583.1 223.2L587.8 231.0L578.4 231.0ZM535.4 151.2L540.1 159.0L530.7 159.0ZM552.1 164.0L556.8 171.8L547.4 171.8ZM536.7 175.6L541.4 183.4L532.0 183.4ZM545.0 189.7L549.7 197.5L540.3 197.5ZM523.2 201.2L527.9 209.0L518.5 209.0ZM558.5 199.3L563.2 207.1L553.8 207.1ZM571.3 171.7L576.0 179.5L566.6 179.5ZM579.0 179.4L583.7 187.2L574.3 187.2ZM558.8 199.7L563.5 207.5L554.1 207.5ZM581.8 223.5L586.5 231.3L577.1 231.3ZM523.5 201.6L528.2 209.4L518.8 209.4ZM545.5 190.7L550.2 198.5L540.8 198.5ZM558.7 199.7L563.4 207.5L554.0 207.5ZM514.3 176.9L519.0 184.7L509.6 184.7Z"/></g>
</defs>
<g clip-path="url(#paB)">
<use href="#emB" fill="#fde4e4"/>
<use href="#erB" fill="#d8f1f3"/>
<g clip-path="url(#cmB)"><use href="#erB" fill="#d7dede"/></g>
<use href="#ptB" fill="#000"/>
<g clip-path="url(#cmB)"><use href="#ptB" fill="#441a18"/></g>
<g clip-path="url(#crB)"><use href="#ptB" fill="#083131"/></g>
<g clip-path="url(#cmB)"><g clip-path="url(#crB)"><use href="#ptB" fill="#3e4848"/></g></g>
</g><text x="454.4" y="91" font-size="14" fill="#1a1a1a">Rice</text><text x="517.7" y="268.6" font-size="14" fill="#1a1a1a">Maize</text>
<rect x="69.5" y="3.5" width="270.0" height="31.0" fill="#d9d9d9" stroke="#444" stroke-width="1"/>
<text x="204.5" y="24" font-size="12.5" font-weight="bold" text-anchor="middle" fill="#111" stroke="#111" stroke-width="0.15" >Bacteria</text>
<line x1="69.1" y1="34" x2="69.1" y2="289.3" stroke="#8a8a8a" stroke-width="1.5"/>
<line x1="68.39999999999999" y1="289.3" x2="334" y2="289.3" stroke="#4a4a4a" stroke-width="1.2"/>
<line x1="66.6" y1="94" x2="69.1" y2="94" stroke="#8a8a8a" stroke-width="1"/>
<text x="65.3" y="98.6" font-size="12.1" font-weight="bold" text-anchor="end" fill="#111" stroke="#111" stroke-width="0.15" >0.25</text>
<line x1="66.6" y1="156" x2="69.1" y2="156" stroke="#8a8a8a" stroke-width="1"/>
<text x="65.3" y="160.6" font-size="12.1" font-weight="bold" text-anchor="end" fill="#111" stroke="#111" stroke-width="0.15" >0.00</text>
<line x1="66.6" y1="218" x2="69.1" y2="218" stroke="#8a8a8a" stroke-width="1"/>
<text x="65.3" y="222.6" font-size="12.1" font-weight="bold" text-anchor="end" fill="#111" stroke="#111" stroke-width="0.15" >-0.25</text>
<line x1="66.6" y1="280" x2="69.1" y2="280" stroke="#8a8a8a" stroke-width="1"/>
<text x="65.3" y="284.6" font-size="12.1" font-weight="bold" text-anchor="end" fill="#111" stroke="#111" stroke-width="0.15" >-0.50</text>
<line x1="79.5" y1="289.3" x2="79.5" y2="291.8" stroke="#8a8a8a" stroke-width="1"/>
<text x="79.9" y="301.7" font-size="12.1" font-weight="bold" text-anchor="middle" fill="#111" stroke="#111" stroke-width="0.15" >-0.6</text>
<line x1="143.5" y1="289.3" x2="143.5" y2="291.8" stroke="#8a8a8a" stroke-width="1"/>
<text x="143.9" y="301.7" font-size="12.1" font-weight="bold" text-anchor="middle" fill="#111" stroke="#111" stroke-width="0.15" >-0.3</text>
<line x1="207.5" y1="289.3" x2="207.5" y2="291.8" stroke="#8a8a8a" stroke-width="1"/>
<text x="207.9" y="301.7" font-size="12.1" font-weight="bold" text-anchor="middle" fill="#111" stroke="#111" stroke-width="0.15" >0.0</text>
<line x1="271.5" y1="289.3" x2="271.5" y2="291.8" stroke="#8a8a8a" stroke-width="1"/>
<text x="271.9" y="301.7" font-size="12.1" font-weight="bold" text-anchor="middle" fill="#111" stroke="#111" stroke-width="0.15" >0.3</text>
<text x="208" y="325.3" font-size="12.8" font-weight="bold" text-anchor="middle" fill="#111" stroke="#111" stroke-width="0.15" >PCoA1 (21.8 %)</text>
<text x="0" y="0" font-size="12.8" font-weight="bold" text-anchor="middle" fill="#111" transform="translate(25,164.5) rotate(-90)">PCoA2 (14.6 %)</text>
<rect x="410.5" y="3.5" width="270.0" height="31.0" fill="#d9d9d9" stroke="#444" stroke-width="1"/>
<text x="545.5" y="24" font-size="12.5" font-weight="bold" text-anchor="middle" fill="#111" stroke="#111" stroke-width="0.15" >Fungi</text>
<line x1="410.1" y1="34" x2="410.1" y2="289.3" stroke="#8a8a8a" stroke-width="1.5"/>
<line x1="409.40000000000003" y1="289.3" x2="676" y2="289.3" stroke="#4a4a4a" stroke-width="1.2"/>
<line x1="407.6" y1="37.5" x2="410.1" y2="37.5" stroke="#8a8a8a" stroke-width="1"/>
<text x="406.3" y="42.1" font-size="12.1" font-weight="bold" text-anchor="end" fill="#111" stroke="#111" stroke-width="0.15" >0.50</text>
<line x1="407.6" y1="98.5" x2="410.1" y2="98.5" stroke="#8a8a8a" stroke-width="1"/>
<text x="406.3" y="103.1" font-size="12.1" font-weight="bold" text-anchor="end" fill="#111" stroke="#111" stroke-width="0.15" >0.25</text>
<line x1="407.6" y1="159.5" x2="410.1" y2="159.5" stroke="#8a8a8a" stroke-width="1"/>
<text x="406.3" y="164.1" font-size="12.1" font-weight="bold" text-anchor="end" fill="#111" stroke="#111" stroke-width="0.15" >0.00</text>
<line x1="407.6" y1="220.5" x2="410.1" y2="220.5" stroke="#8a8a8a" stroke-width="1"/>
<text x="406.3" y="225.1" font-size="12.1" font-weight="bold" text-anchor="end" fill="#111" stroke="#111" stroke-width="0.15" >-0.25</text>
<line x1="407.6" y1="281.5" x2="410.1" y2="281.5" stroke="#8a8a8a" stroke-width="1"/>
<text x="406.3" y="286.1" font-size="12.1" font-weight="bold" text-anchor="end" fill="#111" stroke="#111" stroke-width="0.15" >-0.50</text>
<line x1="416.5" y1="289.3" x2="416.5" y2="291.8" stroke="#8a8a8a" stroke-width="1"/>
<text x="416.9" y="301.7" font-size="12.1" font-weight="bold" text-anchor="middle" fill="#111" stroke="#111" stroke-width="0.15" >-0.6</text>
<line x1="470" y1="289.3" x2="470" y2="291.8" stroke="#8a8a8a" stroke-width="1"/>
<text x="470.4" y="301.7" font-size="12.1" font-weight="bold" text-anchor="middle" fill="#111" stroke="#111" stroke-width="0.15" >-0.4</text>
<line x1="523.6" y1="289.3" x2="523.6" y2="291.8" stroke="#8a8a8a" stroke-width="1"/>
<text x="524.0" y="301.7" font-size="12.1" font-weight="bold" text-anchor="middle" fill="#111" stroke="#111" stroke-width="0.15" >-0.2</text>
<line x1="577.2" y1="289.3" x2="577.2" y2="291.8" stroke="#8a8a8a" stroke-width="1"/>
<text x="577.6" y="301.7" font-size="12.1" font-weight="bold" text-anchor="middle" fill="#111" stroke="#111" stroke-width="0.15" >0.0</text>
<line x1="630.8" y1="289.3" x2="630.8" y2="291.8" stroke="#8a8a8a" stroke-width="1"/>
<text x="631.1999999999999" y="301.7" font-size="12.1" font-weight="bold" text-anchor="middle" fill="#111" stroke="#111" stroke-width="0.15" >0.2</text>
<text x="547.8" y="325.3" font-size="12.55" font-weight="bold" text-anchor="middle" fill="#111" stroke="#111" stroke-width="0.15" >PCoA1 (11.4 %)</text>
<text x="0" y="0" font-size="12.8" font-weight="bold" text-anchor="middle" fill="#111" transform="translate(366,159) rotate(-90)">PCoA2 (0.09 %)</text>
<rect x="70.5" y="343.5" width="118.0" height="31.0" fill="#d9d9d9" stroke="#444" stroke-width="1"/>
<text x="129.5" y="363.5" font-size="10.7" font-weight="bold" text-anchor="middle" fill="#111" stroke="#111" stroke-width="0.15" >Observed species</text>
<line x1="69.5" y1="376.5" x2="69.5" y2="596.5" stroke="#333" stroke-width="1"/>
<line x1="69.5" y1="596.5" x2="184.5" y2="596.5" stroke="#333" stroke-width="1"/>
<line x1="66.5" y1="376.5" x2="69.5" y2="376.5" stroke="#333" stroke-width="1"/>
<text x="63.5" y="380.5" font-size="10.4" font-weight="normal" text-anchor="end" fill="#111" stroke="#111" stroke-width="0.18" >5000</text>
<line x1="66.5" y1="407.5" x2="69.5" y2="407.5" stroke="#333" stroke-width="1"/>
<text x="63.5" y="411.92857142857144" font-size="10.4" font-weight="normal" text-anchor="end" fill="#111" stroke="#111" stroke-width="0.18" >4500</text>
<line x1="66.5" y1="439.5" x2="69.5" y2="439.5" stroke="#333" stroke-width="1"/>
<text x="63.5" y="443.35714285714283" font-size="10.4" font-weight="normal" text-anchor="end" fill="#111" stroke="#111" stroke-width="0.18" >4000</text>
<line x1="66.5" y1="470.5" x2="69.5" y2="470.5" stroke="#333" stroke-width="1"/>
<text x="63.5" y="474.7857142857143" font-size="10.4" font-weight="normal" text-anchor="end" fill="#111" stroke="#111" stroke-width="0.18" >3500</text>
<line x1="66.5" y1="502.5" x2="69.5" y2="502.5" stroke="#333" stroke-width="1"/>
<text x="63.5" y="506.2142857142857" font-size="10.4" font-weight="normal" text-anchor="end" fill="#111" stroke="#111" stroke-width="0.18" >3000</text>
<line x1="66.5" y1="533.5" x2="69.5" y2="533.5" stroke="#333" stroke-width="1"/>
<text x="63.5" y="537.6428571428571" font-size="10.4" font-weight="normal" text-anchor="end" fill="#111" stroke="#111" stroke-width="0.18" >2500</text>
<line x1="66.5" y1="565.5" x2="69.5" y2="565.5" stroke="#333" stroke-width="1"/>
<text x="63.5" y="569.0714285714286" font-size="10.4" font-weight="normal" text-anchor="end" fill="#111" stroke="#111" stroke-width="0.18" >2000</text>
<line x1="66.5" y1="596.5" x2="69.5" y2="596.5" stroke="#333" stroke-width="1"/>
<text x="63.5" y="600.5" font-size="10.4" font-weight="normal" text-anchor="end" fill="#111" stroke="#111" stroke-width="0.18" >1500</text>
<line x1="69.5" y1="596.5" x2="69.5" y2="599.5" stroke="#333" stroke-width="1"/>
<line x1="126.5" y1="596.5" x2="126.5" y2="599.5" stroke="#333" stroke-width="1"/>
<line x1="184.5" y1="596.5" x2="184.5" y2="599.5" stroke="#333" stroke-width="1"/>
<text x="131" y="399.5" font-size="15" font-weight="bold" text-anchor="middle" fill="#000" stroke="#000" stroke-width="0.15" >***</text>
<line x1="98.5" y1="408.5" x2="98.5" y2="473.5" stroke="#3a3a3a" stroke-width="1"/>
<line x1="98.5" y1="516.5" x2="98.5" y2="570.5" stroke="#3a3a3a" stroke-width="1"/>
<line x1="94.25" y1="408.5" x2="102.75" y2="408.5" stroke="#3a3a3a" stroke-width="1"/>
<line x1="94.25" y1="570.5" x2="102.75" y2="570.5" stroke="#3a3a3a" stroke-width="1"/>
<rect x="84.5" y="473.5" width="27.0" height="43.0" fill="#fde5e5" stroke="#3a3a3a" stroke-width="1"/>
<line x1="84.5" y1="498.5" x2="111.5" y2="498.5" stroke="#3a3a3a" stroke-width="1"/>
<line x1="156.5" y1="458.5" x2="156.5" y2="499.5" stroke="#3a3a3a" stroke-width="1"/>
<line x1="156.5" y1="550.5" x2="156.5" y2="581.5" stroke="#3a3a3a" stroke-width="1"/>
<line x1="152.25" y1="458.5" x2="160.75" y2="458.5" stroke="#3a3a3a" stroke-width="1"/>
<line x1="152.25" y1="581.5" x2="160.75" y2="581.5" stroke="#3a3a3a" stroke-width="1"/>
<rect x="142.5" y="499.5" width="27.0" height="51.0" fill="#dcf3f5" stroke="#3a3a3a" stroke-width="1"/>
<line x1="142.5" y1="525.5" x2="169.5" y2="525.5" stroke="#3a3a3a" stroke-width="1"/>
<text x="98.3" y="614.5" font-size="12.6" font-weight="bold" text-anchor="middle" fill="#000" stroke="#000" stroke-width="0.15" >Maize</text>
<text x="155.8" y="614.5" font-size="12.6" font-weight="bold" text-anchor="middle" fill="#000" stroke="#000" stroke-width="0.15" >Rice</text>
<rect x="220.5" y="343.5" width="118.0" height="31.0" fill="#d9d9d9" stroke="#444" stroke-width="1"/>
<text x="279.5" y="363.5" font-size="10.7" font-weight="bold" text-anchor="middle" fill="#111" stroke="#111" stroke-width="0.15" >Shannon index</text>
<line x1="219.5" y1="376.5" x2="219.5" y2="596.5" stroke="#333" stroke-width="1"/>
<line x1="219.5" y1="596.5" x2="337.5" y2="596.5" stroke="#333" stroke-width="1"/>
<line x1="216.5" y1="376.5" x2="219.5" y2="376.5" stroke="#333" stroke-width="1"/>
<text x="214" y="380.5" font-size="10.4" font-weight="normal" text-anchor="end" fill="#111" stroke="#111" stroke-width="0.18" >11.5</text>
<line x1="216.5" y1="407.5" x2="219.5" y2="407.5" stroke="#333" stroke-width="1"/>
<text x="214" y="411.92857142857144" font-size="10.4" font-weight="normal" text-anchor="end" fill="#111" stroke="#111" stroke-width="0.18" >11.0</text>
<line x1="216.5" y1="439.5" x2="219.5" y2="439.5" stroke="#333" stroke-width="1"/>
<text x="214" y="443.3571428571429" font-size="10.4" font-weight="normal" text-anchor="end" fill="#111" stroke="#111" stroke-width="0.18" >10.5</text>
<line x1="216.5" y1="470.5" x2="219.5" y2="470.5" stroke="#333" stroke-width="1"/>
<text x="214" y="474.7857142857143" font-size="10.4" font-weight="normal" text-anchor="end" fill="#111" stroke="#111" stroke-width="0.18" >10.0</text>
<line x1="216.5" y1="502.5" x2="219.5" y2="502.5" stroke="#333" stroke-width="1"/>
<text x="214" y="506.2142857142857" font-size="10.4" font-weight="normal" text-anchor="end" fill="#111" stroke="#111" stroke-width="0.18" >9.5</text>
<line x1="216.5" y1="533.5" x2="219.5" y2="533.5" stroke="#333" stroke-width="1"/>
<text x="214" y="537.6428571428571" font-size="10.4" font-weight="normal" text-anchor="end" fill="#111" stroke="#111" stroke-width="0.18" >9.0</text>
<line x1="216.5" y1="565.5" x2="219.5" y2="565.5" stroke="#333" stroke-width="1"/>
<text x="214" y="569.0714285714286" font-size="10.4" font-weight="normal" text-anchor="end" fill="#111" stroke="#111" stroke-width="0.18" >8.5</text>
<line x1="216.5" y1="596.5" x2="219.5" y2="596.5" stroke="#333" stroke-width="1"/>
<text x="214" y="600.5" font-size="10.4" font-weight="normal" text-anchor="end" fill="#111" stroke="#111" stroke-width="0.18" >8.0</text>
<line x1="219.5" y1="596.5" x2="219.5" y2="599.5" stroke="#333" stroke-width="1"/>
<line x1="278.5" y1="596.5" x2="278.5" y2="599.5" stroke="#333" stroke-width="1"/>
<line x1="337.5" y1="596.5" x2="337.5" y2="599.5" stroke="#333" stroke-width="1"/>
<text x="280" y="399.5" font-size="15" font-weight="bold" text-anchor="middle" fill="#000" stroke="#000" stroke-width="0.15" >***</text>
<line x1="249.5" y1="404.5" x2="249.5" y2="442.5" stroke="#3a3a3a" stroke-width="1"/>
<line x1="249.5" y1="476.5" x2="249.5" y2="523.5" stroke="#3a3a3a" stroke-width="1"/>
<line x1="245.25" y1="404.5" x2="253.75" y2="404.5" stroke="#3a3a3a" stroke-width="1"/>
<line x1="245.25" y1="523.5" x2="253.75" y2="523.5" stroke="#3a3a3a" stroke-width="1"/>
<rect x="235.5" y="442.5" width="28.0" height="34.0" fill="#fde5e5" stroke="#3a3a3a" stroke-width="1"/>
<line x1="235.5" y1="460.5" x2="263.5" y2="460.5" stroke="#3a3a3a" stroke-width="1"/>
<line x1="307.5" y1="404.5" x2="307.5" y2="457.5" stroke="#3a3a3a" stroke-width="1"/>
<line x1="307.5" y1="509.5" x2="307.5" y2="578.5" stroke="#3a3a3a" stroke-width="1"/>
<line x1="303.25" y1="404.5" x2="311.75" y2="404.5" stroke="#3a3a3a" stroke-width="1"/>
<line x1="303.25" y1="578.5" x2="311.75" y2="578.5" stroke="#3a3a3a" stroke-width="1"/>
<rect x="293.5" y="457.5" width="28.0" height="52.0" fill="#dcf3f5" stroke="#3a3a3a" stroke-width="1"/>
<line x1="293.5" y1="481.5" x2="321.5" y2="481.5" stroke="#3a3a3a" stroke-width="1"/>
<text x="249.4" y="614.5" font-size="12.6" font-weight="bold" text-anchor="middle" fill="#000" stroke="#000" stroke-width="0.15" >Maize</text>
<text x="308.5" y="614.5" font-size="12.6" font-weight="bold" text-anchor="middle" fill="#000" stroke="#000" stroke-width="0.15" >Rice</text>
<rect x="412.5" y="343.5" width="118.0" height="31.0" fill="#d9d9d9" stroke="#444" stroke-width="1"/>
<text x="471.5" y="363.5" font-size="10.7" font-weight="bold" text-anchor="middle" fill="#111" stroke="#111" stroke-width="0.15" >Observed species</text>
<line x1="413.5" y1="377.5" x2="413.5" y2="597.5" stroke="#333" stroke-width="1"/>
<line x1="413.5" y1="597.5" x2="528.5" y2="597.5" stroke="#333" stroke-width="1"/>
<line x1="410.5" y1="377.5" x2="413.5" y2="377.5" stroke="#333" stroke-width="1"/>
<text x="407.4" y="381.5" font-size="10.4" font-weight="normal" text-anchor="end" fill="#111" stroke="#111" stroke-width="0.18" >1600</text>
<line x1="410.5" y1="404.5" x2="413.5" y2="404.5" stroke="#333" stroke-width="1"/>
<text x="407.4" y="409.0" font-size="10.4" font-weight="normal" text-anchor="end" fill="#111" stroke="#111" stroke-width="0.18" >1400</text>
<line x1="410.5" y1="432.5" x2="413.5" y2="432.5" stroke="#333" stroke-width="1"/>
<text x="407.4" y="436.5" font-size="10.4" font-weight="normal" text-anchor="end" fill="#111" stroke="#111" stroke-width="0.18" >1200</text>
<line x1="410.5" y1="460.5" x2="413.5" y2="460.5" stroke="#333" stroke-width="1"/>
<text x="407.4" y="464.0" font-size="10.4" font-weight="normal" text-anchor="end" fill="#111" stroke="#111" stroke-width="0.18" >1000</text>
<line x1="410.5" y1="487.5" x2="413.5" y2="487.5" stroke="#333" stroke-width="1"/>
<text x="407.4" y="491.5" font-size="10.4" font-weight="normal" text-anchor="end" fill="#111" stroke="#111" stroke-width="0.18" >800</text>
<line x1="410.5" y1="514.5" x2="413.5" y2="514.5" stroke="#333" stroke-width="1"/>
<text x="407.4" y="519.0" font-size="10.4" font-weight="normal" text-anchor="end" fill="#111" stroke="#111" stroke-width="0.18" >600</text>
<line x1="410.5" y1="542.5" x2="413.5" y2="542.5" stroke="#333" stroke-width="1"/>
<text x="407.4" y="546.5" font-size="10.4" font-weight="normal" text-anchor="end" fill="#111" stroke="#111" stroke-width="0.18" >400</text>
<line x1="410.5" y1="570.5" x2="413.5" y2="570.5" stroke="#333" stroke-width="1"/>
<text x="407.4" y="574.0" font-size="10.4" font-weight="normal" text-anchor="end" fill="#111" stroke="#111" stroke-width="0.18" >200</text>
<line x1="410.5" y1="597.5" x2="413.5" y2="597.5" stroke="#333" stroke-width="1"/>
<text x="407.4" y="601.5" font-size="10.4" font-weight="normal" text-anchor="end" fill="#111" stroke="#111" stroke-width="0.18" >0</text>
<line x1="413.5" y1="597.5" x2="413.5" y2="600.5" stroke="#333" stroke-width="1"/>
<line x1="470.5" y1="597.5" x2="470.5" y2="600.5" stroke="#333" stroke-width="1"/>
<line x1="528.5" y1="597.5" x2="528.5" y2="600.5" stroke="#333" stroke-width="1"/>
<text x="472.2" y="399.5" font-size="15" font-weight="bold" text-anchor="middle" fill="#000" stroke="#000" stroke-width="0.15" >***</text>
<line x1="442.5" y1="427.5" x2="442.5" y2="477.5" stroke="#3a3a3a" stroke-width="1"/>
<line x1="442.5" y1="509.5" x2="442.5" y2="556.5" stroke="#3a3a3a" stroke-width="1"/>
<line x1="438.25" y1="427.5" x2="446.75" y2="427.5" stroke="#3a3a3a" stroke-width="1"/>
<line x1="438.25" y1="556.5" x2="446.75" y2="556.5" stroke="#3a3a3a" stroke-width="1"/>
<rect x="428.5" y="477.5" width="27.0" height="32.0" fill="#fde5e5" stroke="#3a3a3a" stroke-width="1"/>
<line x1="428.5" y1="495.5" x2="455.5" y2="495.5" stroke="#3a3a3a" stroke-width="1"/>
<line x1="498.5" y1="404.5" x2="498.5" y2="475.5" stroke="#3a3a3a" stroke-width="1"/>
<line x1="498.5" y1="535.5" x2="498.5" y2="560.5" stroke="#3a3a3a" stroke-width="1"/>
<line x1="494.25" y1="404.5" x2="502.75" y2="404.5" stroke="#3a3a3a" stroke-width="1"/>
<line x1="494.25" y1="560.5" x2="502.75" y2="560.5" stroke="#3a3a3a" stroke-width="1"/>
<rect x="485.5" y="475.5" width="27.0" height="60.0" fill="#dcf3f5" stroke="#3a3a3a" stroke-width="1"/>
<line x1="485.5" y1="515.5" x2="512.5" y2="515.5" stroke="#3a3a3a" stroke-width="1"/>
<text x="442.2" y="614.5" font-size="12.6" font-weight="bold" text-anchor="middle" fill="#000" stroke="#000" stroke-width="0.15" >Maize</text>
<text x="499.7" y="614.5" font-size="12.6" font-weight="bold" text-anchor="middle" fill="#000" stroke="#000" stroke-width="0.15" >Rice</text>
<rect x="560.5" y="343.5" width="118.0" height="31.0" fill="#d9d9d9" stroke="#444" stroke-width="1"/>
<text x="619.5" y="363.5" font-size="10.7" font-weight="bold" text-anchor="middle" fill="#111" stroke="#111" stroke-width="0.15" >Shannon index</text>
<line x1="560.5" y1="376.5" x2="560.5" y2="596.5" stroke="#333" stroke-width="1"/>
<line x1="560.5" y1="596.5" x2="677.5" y2="596.5" stroke="#333" stroke-width="1"/>
<line x1="557.5" y1="376.5" x2="560.5" y2="376.5" stroke="#333" stroke-width="1"/>
<text x="554.1" y="380.5" font-size="10.4" font-weight="normal" text-anchor="end" fill="#111" stroke="#111" stroke-width="0.18" >10.0</text>
<line x1="557.5" y1="413.5" x2="560.5" y2="413.5" stroke="#333" stroke-width="1"/>
<text x="554.1" y="417.1666666666667" font-size="10.4" font-weight="normal" text-anchor="end" fill="#111" stroke="#111" stroke-width="0.18" >9.0</text>
<line x1="557.5" y1="449.5" x2="560.5" y2="449.5" stroke="#333" stroke-width="1"/>
<text x="554.1" y="453.83333333333337" font-size="10.4" font-weight="normal" text-anchor="end" fill="#111" stroke="#111" stroke-width="0.18" >8.0</text>
<line x1="557.5" y1="486.5" x2="560.5" y2="486.5" stroke="#333" stroke-width="1"/>
<text x="554.1" y="490.5" font-size="10.4" font-weight="normal" text-anchor="end" fill="#111" stroke="#111" stroke-width="0.18" >7.0</text>
<line x1="557.5" y1="523.5" x2="560.5" y2="523.5" stroke="#333" stroke-width="1"/>
<text x="554.1" y="527.1666666666666" font-size="10.4" font-weight="normal" text-anchor="end" fill="#111" stroke="#111" stroke-width="0.18" >6.0</text>
<line x1="557.5" y1="559.5" x2="560.5" y2="559.5" stroke="#333" stroke-width="1"/>
<text x="554.1" y="563.8333333333334" font-size="10.4" font-weight="normal" text-anchor="end" fill="#111" stroke="#111" stroke-width="0.18" >5.0</text>
<line x1="557.5" y1="596.5" x2="560.5" y2="596.5" stroke="#333" stroke-width="1"/>
<text x="554.1" y="600.5" font-size="10.4" font-weight="normal" text-anchor="end" fill="#111" stroke="#111" stroke-width="0.18" >4.0</text>
<line x1="560.5" y1="596.5" x2="560.5" y2="599.5" stroke="#333" stroke-width="1"/>
<line x1="618.5" y1="596.5" x2="618.5" y2="599.5" stroke="#333" stroke-width="1"/>
<line x1="677.5" y1="596.5" x2="677.5" y2="599.5" stroke="#333" stroke-width="1"/>
<text x="617.4" y="399.5" font-size="15" font-weight="bold" text-anchor="middle" fill="#000" stroke="#000" stroke-width="0.15" >***</text>
<line x1="589.5" y1="407.5" x2="589.5" y2="452.5" stroke="#3a3a3a" stroke-width="1"/>
<line x1="589.5" y1="484.5" x2="589.5" y2="531.5" stroke="#3a3a3a" stroke-width="1"/>
<line x1="585.25" y1="407.5" x2="593.75" y2="407.5" stroke="#3a3a3a" stroke-width="1"/>
<line x1="585.25" y1="531.5" x2="593.75" y2="531.5" stroke="#3a3a3a" stroke-width="1"/>
<rect x="575.5" y="452.5" width="29.0" height="32.0" fill="#fde5e5" stroke="#3a3a3a" stroke-width="1"/>
<line x1="575.5" y1="466.5" x2="604.5" y2="466.5" stroke="#3a3a3a" stroke-width="1"/>
<line x1="648.5" y1="411.5" x2="648.5" y2="463.5" stroke="#3a3a3a" stroke-width="1"/>
<line x1="648.5" y1="511.5" x2="648.5" y2="576.5" stroke="#3a3a3a" stroke-width="1"/>
<line x1="644.25" y1="411.5" x2="652.75" y2="411.5" stroke="#3a3a3a" stroke-width="1"/>
<line x1="644.25" y1="576.5" x2="652.75" y2="576.5" stroke="#3a3a3a" stroke-width="1"/>
<rect x="634.5" y="463.5" width="28.0" height="48.0" fill="#dcf3f5" stroke="#3a3a3a" stroke-width="1"/>
<line x1="634.5" y1="490.5" x2="662.5" y2="490.5" stroke="#3a3a3a" stroke-width="1"/>
<text x="590" y="614.5" font-size="12.6" font-weight="bold" text-anchor="middle" fill="#000" stroke="#000" stroke-width="0.15" >Maize</text>
<text x="648.9" y="614.5" font-size="12.6" font-weight="bold" text-anchor="middle" fill="#000" stroke="#000" stroke-width="0.15" >Rice</text>
</svg></body></html>
